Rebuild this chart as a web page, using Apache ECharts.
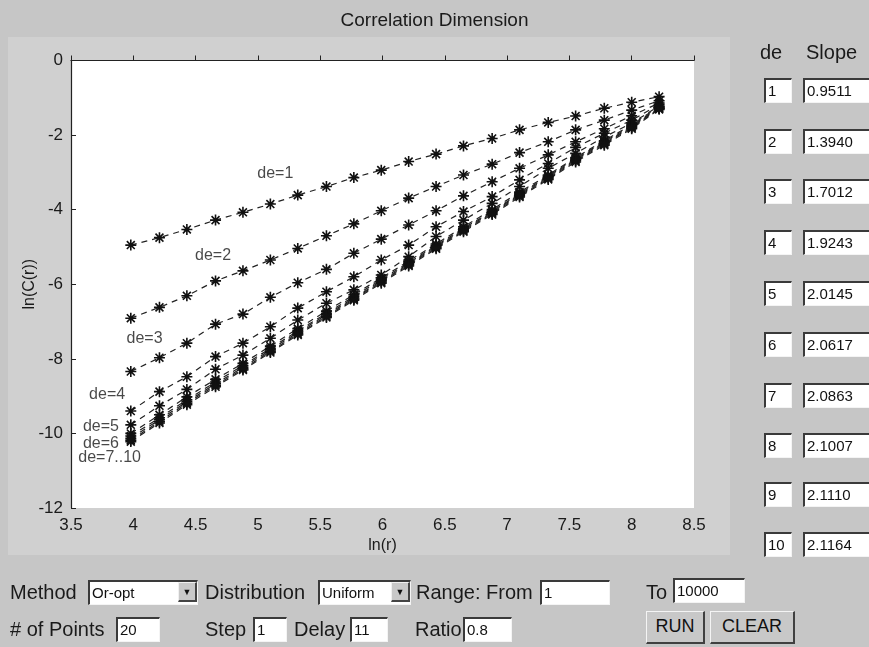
<!DOCTYPE html>
<html>
<head>
<meta charset="utf-8">
<script src="https://cdn.jsdelivr.net/npm/echarts@6/dist/echarts.min.js"></script>
<style>
  body { margin: 0; background: #c6c6c6; font-family: "Liberation Sans", Arial, sans-serif; }
  #main { position: absolute; left: 0; top: 0; width: 869px; height: 647px; }
  .lbl { position: absolute; font-size: 20px; color: #1a1a1a; line-height: 24px; white-space: nowrap; }
  .edit { position: absolute; box-sizing: border-box; background: #fff; height: 25px;
          border-style: solid; border-width: 2px 1px 1px 2px; border-color: #3a3a3a #f4f4f4 #f4f4f4 #3a3a3a;
          font-size: 15px; line-height: 21px; padding-left: 2px; color: #111; white-space: nowrap; overflow: hidden; }
  .drop .btn { position: absolute; right: 0; top: 0; width: 19px; height: 20px; background: #c8c8c8; box-sizing: border-box;
               border-style: solid; border-width: 1px 2px 2px 1px; border-color: #f0f0f0 #444 #444 #f0f0f0;
               font-size: 9px; line-height: 18px; text-align: center; }
  .button { position: absolute; box-sizing: border-box; background: #c8c8c8; height: 33px;
            border-style: solid; border-width: 1px 2px 2px 1px; border-color: #f4f4f4 #404040 #404040 #f4f4f4;
            font-size: 18px; line-height: 29px; text-align: center; color: #111; }
</style>
</head>
<body>
<div id="main"></div>
<div id="ui"></div>
<script>
// ln(r) positions of the 20 points
var lnR = [3.98, 4.21, 4.43, 4.66, 4.88, 5.10, 5.32, 5.55, 5.77, 5.99,
           6.21, 6.43, 6.65, 6.88, 7.10, 7.33, 7.55, 7.78, 8.00, 8.22];

// ln(C(r)) for embedding dimensions de = 1..10
var de1 = [-4.95, -4.75, -4.53, -4.28, -4.07, -3.85, -3.61, -3.38, -3.14, -2.94, -2.71, -2.51, -2.29, -2.09, -1.86, -1.66, -1.49, -1.28, -1.12, -0.97];
var de2 = [-6.91, -6.62, -6.31, -5.91, -5.64, -5.35, -5.04, -4.70, -4.38, -4.03, -3.69, -3.38, -3.07, -2.78, -2.47, -2.18, -1.86, -1.60, -1.33, -1.08];
var de3 = [-8.34, -7.97, -7.58, -7.07, -6.80, -6.35, -5.96, -5.60, -5.17, -4.79, -4.41, -4.03, -3.63, -3.25, -2.89, -2.53, -2.18, -1.83, -1.48, -1.14];
var de4 = [-9.40, -8.88, -8.48, -7.94, -7.58, -7.14, -6.64, -6.20, -5.80, -5.35, -4.95, -4.46, -4.05, -3.65, -3.20, -2.76, -2.33, -1.95, -1.60, -1.18];
var de5 = [-9.77, -9.26, -8.82, -8.28, -7.90, -7.45, -6.96, -6.51, -6.15, -5.75, -5.26, -4.72, -4.28, -3.83, -3.38, -2.89, -2.49, -2.05, -1.68, -1.22];
var de6 = [-10.00, -9.50, -9.02, -8.55, -8.12, -7.66, -7.19, -6.72, -6.28, -5.83, -5.38, -4.92, -4.46, -4.00, -3.53, -3.07, -2.60, -2.15, -1.72, -1.24];
var de7 = [-10.07, -9.58, -9.10, -8.62, -8.18, -7.72, -7.25, -6.78, -6.33, -5.87, -5.42, -4.96, -4.50, -4.04, -3.57, -3.10, -2.63, -2.18, -1.75, -1.26];
var de8 = [-10.13, -9.63, -9.15, -8.67, -8.23, -7.76, -7.29, -6.82, -6.37, -5.91, -5.45, -4.99, -4.53, -4.07, -3.60, -3.13, -2.66, -2.21, -1.78, -1.28];
var de9 = [-10.18, -9.68, -9.19, -8.71, -8.27, -7.80, -7.33, -6.86, -6.40, -5.94, -5.48, -5.02, -4.56, -4.10, -3.63, -3.16, -2.69, -2.24, -1.80, -1.29];
var de10 = [-10.22, -9.72, -9.23, -8.75, -8.30, -7.83, -7.36, -6.89, -6.43, -5.97, -5.51, -5.05, -4.59, -4.13, -3.66, -3.19, -2.72, -2.27, -1.83, -1.31];
var curves = [de1, de2, de3, de4, de5, de6, de7, de8, de9, de10];

// in-plot annotations (data coordinates)
var noteText = ['de=1', 'de=2', 'de=3', 'de=4', 'de=5', 'de=6', 'de=7..10'];
var noteX = [5.14, 4.64, 4.09, 3.79, 3.74, 3.74, 3.81];
var noteY = [-3.02, -5.24, -7.45, -8.97, -9.82, -10.26, -10.66];

// side table
var deList = ['1', '2', '3', '4', '5', '6', '7', '8', '9', '10'];
var slopes = ['0.9511', '1.3940', '1.7012', '1.9243', '2.0145', '2.0617', '2.0863', '2.1007', '2.1110', '2.1164'];

var font = '"Liberation Sans", Arial, sans-serif';
var star = 'path://M0,-5L0,5M-5,0L5,0M-3.6,-3.6L3.6,3.6M-3.6,3.6L3.6,-3.6';

var series = curves.map(function (c, k) {
  return {
    type: 'line',
    name: 'de=' + (k + 1),
    data: lnR.map(function (x, i) { return [x, c[i]]; }),
    symbol: star,
    symbolSize: 11,
    showSymbol: true,
    animation: false,
    itemStyle: { color: '#111', borderColor: '#111', borderWidth: 1.6 },
    lineStyle: { color: '#222', width: 1.2, type: [6, 5] }
  };
});
series.push({
  type: 'scatter',
  symbolSize: 0,
  silent: true,
  data: noteText.map(function (t, i) { return { name: t, value: [noteX[i], noteY[i]] }; }),
  label: { show: true, position: 'inside', formatter: '{b}', color: '#1a1a1a', fontSize: 16, fontFamily: font }
});

var axisCommon = {
  axisLine: { show: true, lineStyle: { color: '#222', width: 1.2 } },
  axisTick: { show: true, inside: true, length: 5, lineStyle: { color: '#222' } },
  splitLine: { show: false },
  axisLabel: { color: '#1a1a1a', fontSize: 17, fontFamily: font },
  nameTextStyle: { color: '#1a1a1a', fontSize: 16, fontFamily: font },
  nameMoveOverlap: false
};

var option = {
  backgroundColor: 'transparent',
  animation: false,
  title: {
    text: 'Correlation Dimension', left: 'center', top: 6,
    textStyle: { fontSize: 19, fontWeight: 'normal', color: '#1a1a1a', fontFamily: font }
  },
  graphic: [{
    type: 'rect', z: -10, silent: true,
    shape: { x: 8, y: 37, width: 722, height: 518 },
    style: { fill: '#d0d0d0' }
  }],
  grid: { left: 71, top: 60.5, width: 623, height: 447.5, show: true, backgroundColor: '#fff', borderWidth: 0 },
  xAxis: Object.assign({}, axisCommon, {
    type: 'value', min: 3.5, max: 8.5, interval: 0.5,
    name: 'ln(r)', nameLocation: 'middle', nameGap: 30,
    axisLabel: Object.assign({}, axisCommon.axisLabel, { margin: 9 })
  }),
  yAxis: Object.assign({}, axisCommon, {
    type: 'value', min: -12, max: 0, interval: 2,
    name: 'ln(C(r))', nameLocation: 'middle', nameGap: 33,
    axisLabel: Object.assign({}, axisCommon.axisLabel, { margin: 8 })
  }),
  series: series
};

var myChart = echarts.init(document.getElementById('main'));
myChart.setOption(option);

// GUI controls around the axes
var ui = document.getElementById('ui');
function add(cls, text, left, top, width, extra) {
  var d = document.createElement('div');
  d.className = cls;
  d.style.left = left + 'px';
  d.style.top = top + 'px';
  if (width) d.style.width = width + 'px';
  if (extra) d.innerHTML = extra;
  else d.textContent = text;
  ui.appendChild(d);
  return d;
}
add('lbl', 'de', 760, 40);
add('lbl', 'Slope', 806, 40);
var rowY = [78, 129, 179, 230, 281, 332, 383, 433, 482, 532];
for (var i = 0; i < deList.length; i++) {
  add('edit', deList[i], 764, rowY[i], 28);
  add('edit', slopes[i], 803, rowY[i], 70);
}

add('lbl', 'Method', 10, 580);
add('edit drop', '', 88, 580, 110, 'Or-opt<div class="btn">&#9660;</div>');
add('lbl', 'Distribution', 205, 580);
add('edit drop', '', 318, 580, 93, 'Uniform<div class="btn">&#9660;</div>');
add('lbl', 'Range: From', 416, 580);
add('edit', '1', 540, 580, 70);
add('lbl', 'To', 646, 580);
add('edit', '10000', 673, 578, 72);

add('lbl', '# of Points', 10, 617);
add('edit', '20', 116, 617, 44);
add('lbl', 'Step', 205, 617);
add('edit', '1', 253, 617, 34);
add('lbl', 'Delay', 294, 617);
add('edit', '11', 350, 617, 38);
add('lbl', 'Ratio', 415, 617);
add('edit', '0.8', 463, 617, 49);
add('button', 'RUN', 646, 611, 59);
add('button', 'CLEAR', 710, 611, 85);
</script>
</body>
</html>
